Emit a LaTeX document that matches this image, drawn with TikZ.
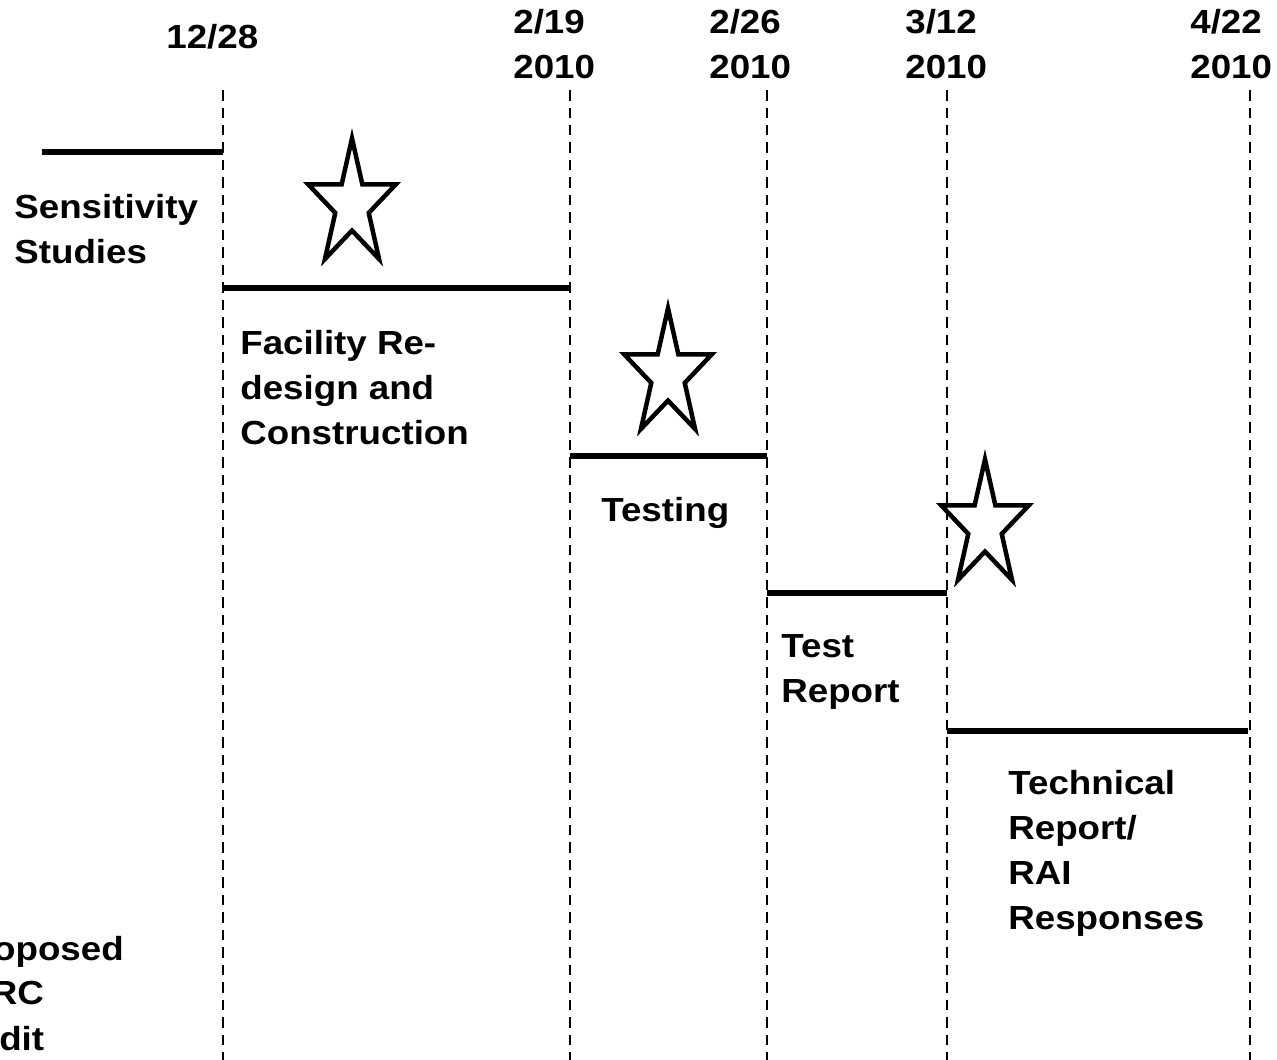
\documentclass[tikz,border=0pt]{standalone}
\usepackage{fontspec}
\setmainfont{Liberation Sans}[FakeStretch=1.1]
\begin{document}
\begin{tikzpicture}[x=0.02cm,y=-0.02cm,
  lbl/.style={anchor=north west, inner sep=0pt, align=left, font=\fontsize{19}{25.6}\selectfont\bfseries},
  datev/.style={line width=0.055cm, dash pattern=on 0.21cm off 0.14cm},
  bar/.style={line width=0.12cm},
  starline/.style={line width=0.09cm, line join=miter}]
\clip (0,0) rectangle (1277,1059);
% date lines
\foreach \n/\x in {1/223,2/570,3/767,4/947,5/1250}{
  \coordinate (top\n) at (\x,90);
  \coordinate (bot\n) at (\x,1070);
  \draw[datev] (top\n) -- (bot\n);
}
% date labels
\node[lbl] (date1) at (166,24) {12/28};
\node[lbl] (date2) at (513,9) {2/19\\2010};
\node[lbl] (date3) at (709,9) {2/26\\2010};
\node[lbl] (date4) at (905,9) {3/12\\2010};
\node[lbl] (date5) at (1190,9) {4/22\\2010};
% bars
\coordinate (s0) at (42,152);
\coordinate (s1) at (223,152);
\draw[bar] (s0) -- (s1);
\coordinate (f0) at (223,288);
\coordinate (f1) at (570,288);
\draw[bar] (f0) -- (f1);
\coordinate (g0) at (570,456);
\coordinate (g1) at (767,456);
\draw[bar] (g0) -- (g1);
\coordinate (h0) at (767,593);
\coordinate (h1) at (947,593);
\draw[bar] (h0) -- (h1);
\coordinate (k0) at (947,731);
\coordinate (k1) at (1248,731);
\draw[bar] (k0) -- (k1);
% task labels
\node[lbl] (sens) at (14,194) {Sensitivity\\Studies};
\node[lbl] (fac) at (240,330) {Facility Re-\\design and\\Construction};
\node[lbl] (test) at (601,497) {Testing};
\node[lbl] (trep) at (781,634) {Test\\Report};
\node[lbl] (tech) at (1008,770) {Technical\\Report/\\RAI\\Responses};
\node[lbl] (audit1) at (-46,936) {Proposed};
\node[lbl] (audit2) at (-36,981) {NRC};
\node[lbl] (audit3) at (-50,1026) {Audit};
% stars
\foreach \cx/\cy in {352/205, 668/375, 985/526}{
  \draw[starline, shift={(\cx,\cy)}, yscale=1.45]
    (270:46) -- (306:17.6) -- (342:46) -- (18:17.6) -- (54:46) -- (90:17.6)
    -- (126:46) -- (162:17.6) -- (198:46) -- (234:17.6) -- cycle;
}
\end{tikzpicture}
\end{document}
